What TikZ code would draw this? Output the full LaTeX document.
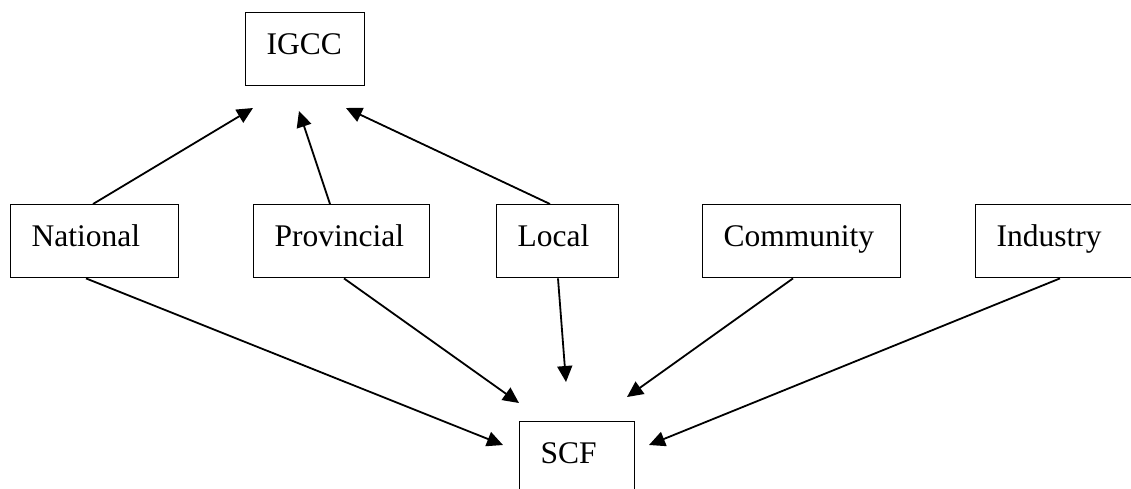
\documentclass[tikz,border=0pt]{standalone}
\usepackage{fontspec}
\setmainfont{Liberation Serif}
\usetikzlibrary{arrows.meta}

\begin{document}
\begin{tikzpicture}[
    x=0.5pt, y=-0.5pt,
    box/.style={draw, line width=0.7pt, anchor=north west, inner xsep=10.5pt, inner ysep=5pt,
        text height=16pt, text depth=10.5pt, align=left, font=\fontsize{15.75}{19}\selectfont},
    arr/.style={-{Triangle[length=8pt, width=7.5pt]}, line width=0.9pt}
]
    \useasboundingbox (0,0) rectangle (1131,488);

    % Top and bottom boxes
    \node[box, text width=38.5pt] (igcc) at (245,12) {IGCC};
    \node[box, text width=36.5pt] (scf) at (519,421) {SCF};

    % Middle row
    \node[box, text width=63pt] (nat) at (10,204) {National};
    \node[box, text width=67pt] (prov) at (253,204) {Provincial};
    \node[box, text width=40pt] (loc) at (496,204) {Local};
    \node[box, text width=78pt] (comm) at (702,204) {Community};
    \node[box, text width=58pt] (ind) at (975,204) {Industry};

    % Arrow ends
    \coordinate (igccA) at (253,108);
    \coordinate (igccB) at (299,111);
    \coordinate (igccC) at (346,108);
    \coordinate (scfA) at (503,445);
    \coordinate (scfB) at (519,403);
    \coordinate (scfC) at (566,382);
    \coordinate (scfD) at (627,397);
    \coordinate (scfE) at (649,445);

    % Arrows up to IGCC
    \draw[arr] ([xshift=41.5pt]nat.north west) -- (igccA);
    \draw[arr] ([xshift=38.5pt]prov.north west) -- (igccB);
    \draw[arr] ([xshift=27pt]loc.north west) -- (igccC);

    % Arrows down to SCF
    \draw[arr] ([xshift=38pt]nat.south west) -- (scfA);
    \draw[arr] ([xshift=45.5pt]prov.south west) -- (scfB);
    \draw[arr] ([xshift=31pt]loc.south west) -- (scfC);
    \draw[arr] ([xshift=45.5pt]comm.south west) -- (scfD);
    \draw[arr] ([xshift=42.5pt]ind.south west) -- (scfE);
\end{tikzpicture}
\end{document}
